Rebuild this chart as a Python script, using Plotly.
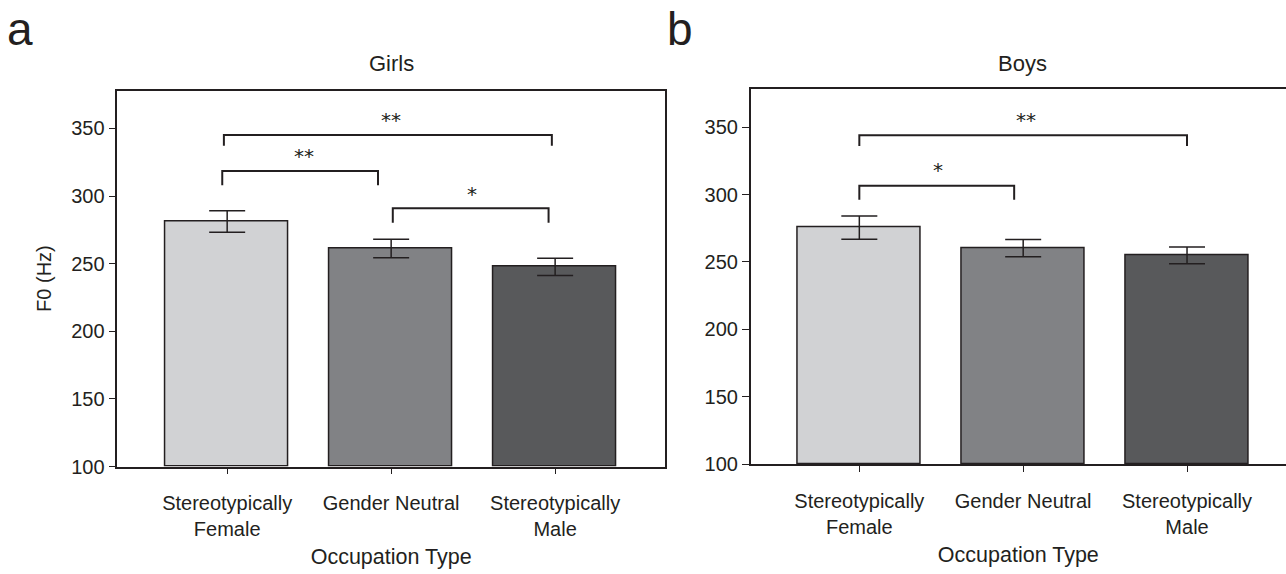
import plotly.graph_objects as go

# ---------------- data ----------------
categories = ["Stereotypically<br>Female", "Gender Neutral", "Stereotypically<br>Male"]
cat_pos = [0, 1, 2]

girls_means = [281.2, 261.2, 247.6]
girls_err = [8.0, 6.8, 6.4]

boys_means = [275.5, 260.2, 254.9]
boys_err = [8.6, 6.4, 6.2]

bar_colors = ["#d1d2d4", "#818285", "#58595b"]

# brackets: start cat, end cat, top y, drop-end y, label, label y, label x
girls_br_x0 = [-0.02, -0.03, 1.01]
girls_br_x1 = [1.98, 0.92, 1.96]
girls_br_top = [345.2, 318.5, 290.9]
girls_br_end = [337.2, 308.0, 280.2]
girls_br_lab = ["**", "**", "*"]
girls_br_laby = [356.4, 329.5, 301.2]
girls_br_labx = [1.0, 0.47, 1.49]

boys_br_x0 = [0.0, 0.0]
boys_br_x1 = [2.0, 0.945]
boys_br_top = [344.0, 306.5]
boys_br_end = [336.0, 296.1]
boys_br_lab = ["**", "*"]
boys_br_laby = [355.3, 317.9]
boys_br_labx = [1.02, 0.48]

y_ticks = [100, 150, 200, 250, 300, 350]

INK = "#231f20"
FONT = "Liberation Sans"
W, H = 1286, 574

fig = go.Figure()


def add_panel(means, errs, xa, ya):
    fig.add_trace(go.Bar(
        x=cat_pos, y=[m - 100 for m in means], base=100,
        width=0.75,
        marker=dict(color=bar_colors, line=dict(color=INK, width=1.5)),
        error_y=dict(type="data", array=errs, color=INK, thickness=1.5, width=18),
        xaxis=xa, yaxis=ya, showlegend=False, hoverinfo="skip",
    ))


def add_brackets(x0s, x1s, tops, ends, labs, labys, labxs, xa, ya):
    for x0, x1, t, e, lab, ly, lx in zip(x0s, x1s, tops, ends, labs, labys, labxs):
        fig.add_trace(go.Scatter(
            x=[x0, x0, x1, x1], y=[e, t, t, e], mode="lines",
            line=dict(color=INK, width=2), xaxis=xa, yaxis=ya,
            showlegend=False, hoverinfo="skip",
        ))
        fig.add_annotation(x=lx, y=ly, xref=xa, yref=ya, text=lab, showarrow=False,
                           font=dict(family="DejaVu Sans", size=20, color=INK),
                           yanchor="middle")


add_panel(girls_means, girls_err, "x", "y")
add_panel(boys_means, boys_err, "x2", "y2")
add_brackets(girls_br_x0, girls_br_x1, girls_br_top, girls_br_end, girls_br_lab,
             girls_br_laby, girls_br_labx, "x", "y")
add_brackets(boys_br_x0, boys_br_x1, boys_br_top, boys_br_end, boys_br_lab,
             boys_br_laby, boys_br_labx, "x2", "y2")

xtickfont = dict(family=FONT, size=20, color=INK)
ytickfont = dict(family=FONT, size=20, color=INK)
titlefont = dict(family=FONT, size=21.5, color=INK)

xcommon = dict(tickvals=cat_pos, ticktext=categories, showline=True, linecolor=INK,
               linewidth=1.5, ticks="outside", ticklen=6, tickcolor=INK, tickwidth=1.2,
               tickfont=xtickfont, showgrid=False, zeroline=False, fixedrange=True,
               ticklabelstandoff=12,
               title=dict(text="Occupation Type", font=titlefont, standoff=10))
ycommon = dict(range=[100, 378], tickvals=y_ticks, showline=True, linecolor=INK,
               linewidth=1.5, ticks="outside", ticklen=7, tickcolor=INK, tickwidth=1.2,
               tickfont=ytickfont, showgrid=False, zeroline=False)

fig.update_layout(
    width=W, height=H, margin=dict(l=0, r=0, t=0, b=0),
    paper_bgcolor="white", plot_bgcolor="white", bargap=0,
    xaxis=dict(domain=[117.3 / W, 665 / W], range=[-0.67, 2.67], anchor="y",
               mirror=True, **xcommon),
    yaxis=dict(domain=[1 - 475.7 / H, 1 - 92.3 / H], anchor="x", mirror=True,
               title=dict(text="F0 (Hz)", font=dict(family=FONT, size=20, color=INK), standoff=14),
               **ycommon),
    xaxis2=dict(domain=[750.7 / W, 1.0], range=[-0.663, 2.604], anchor="y2",
                mirror=True, **xcommon),
    yaxis2=dict(domain=[1 - 473.5 / H, 1 - 91 / H], anchor="x2", mirror=False,
                **ycommon),
)

# panel titles and letters
for txt, px, py in [("Girls", 391, 65), ("Boys", 1023, 65)]:
    fig.add_annotation(x=px / W, y=1 - py / H, xref="paper", yref="paper", text=txt,
                       showarrow=False, font=dict(family=FONT, size=22, color=INK),
                       xanchor="center", yanchor="middle")
for txt, px, py in [("a", 20, 30), ("b", 680, 30)]:
    fig.add_annotation(x=px / W, y=1 - py / H, xref="paper", yref="paper", text=txt,
                       showarrow=False, font=dict(family=FONT, size=46, color=INK),
                       xanchor="center", yanchor="middle")

fig.write_html("out.html")
